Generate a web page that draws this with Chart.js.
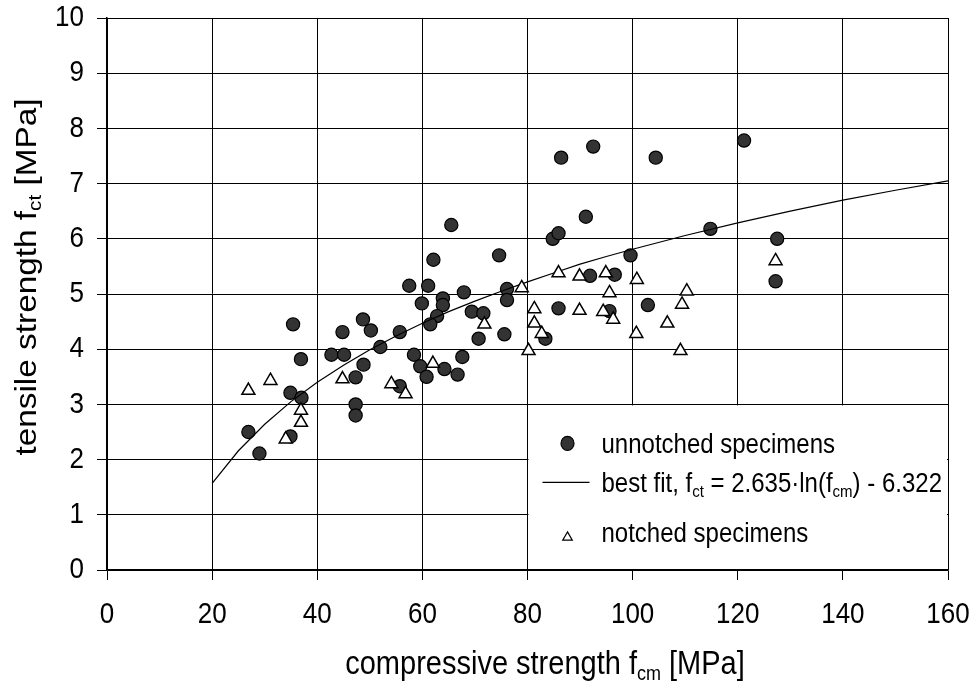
<!DOCTYPE html>
<html>
<head>
<meta charset="utf-8">
<script src="https://cdn.jsdelivr.net/npm/chart.js@4.4.1/dist/chart.umd.min.js"></script>
<style>
html,body{margin:0;padding:0;background:#fff;}
</style>
</head>
<body>
<canvas id="c" width="976" height="684"></canvas>
<script>
/* DATA */
const unnotchedX=[57.5,61.1,59.9,63.9,63.9,62.8,61.5,64.2,35.4,36.9,44.8,48.7,50.2,55.7,52.0,42.7,45.1,48.8,47.3,58.4,59.6,60.8,55.7,34.9,37.0,47.3,47.3,26.9,29.0,34.9,65.5,62.1,74.6,84.8,85.9,91.1,99.6,67.9,76.1,76.1,69.4,71.6,70.7,75.6,67.6,66.7,85.9,91.9,96.6,95.6,102.9,83.4,121.2,114.8,127.5,127.2,86.4,92.5,104.4];
const unnotchedY=[5.15,5.15,4.83,4.92,4.80,4.60,4.45,3.64,4.45,3.82,4.31,4.54,4.34,4.31,4.04,3.90,3.90,3.72,3.49,3.90,3.69,3.50,3.33,3.21,3.12,3.00,2.80,2.50,2.11,2.42,6.25,5.62,5.70,6.00,6.10,6.40,5.70,5.03,5.09,4.89,4.68,4.65,4.19,4.27,3.86,3.54,4.74,5.33,5.35,4.69,4.80,4.19,7.78,6.18,6.00,5.23,7.47,7.67,7.47];

const notchedX=[26.9,31.1,36.9,36.9,34.0,44.8,54.1,56.8,62.0,71.8,78.9,81.3,81.3,82.7,80.2,85.9,89.9,89.9,94.9,95.6,94.4,96.3,100.8,100.7,106.6,110.3,109.4,109.1,127.2];
const notchedY=[3.25,3.43,2.89,2.67,2.37,3.46,3.37,3.19,3.74,4.45,5.11,4.73,4.47,4.28,3.97,5.38,5.32,4.70,5.38,5.02,4.68,4.54,5.26,4.28,4.47,5.05,4.81,3.97,5.60];

const fitX=[20,25,30,35,40,45,50,55,60,65,70,75,80,85,90,95,100,110,120,130,140,150,160];
const fitY=[1.57,2.16,2.64,3.05,3.40,3.71,3.99,4.24,4.47,4.68,4.87,5.05,5.22,5.38,5.54,5.68,5.81,6.06,6.29,6.50,6.70,6.88,7.05];

const legendLabels=["unnotched specimens","best fit","notched specimens"];
const xTitle="compressive strength";
const yTitle="tensile strength";

const FONT="'Liberation Sans', Arial, sans-serif";
const STRETCH=1.15; // text in the picture is a bit taller than Arial

function pts(xs,ys){return xs.map((x,i)=>({x:x,y:ys[i]}));}

// text with subscripts: parts = [[text, isSub], ...]
function partsWidth(ctx,parts,size){
  let w=0;
  parts.forEach(p=>{
    ctx.font=(p[1]?Math.round(size*0.62):size)+"px "+FONT;
    w+=ctx.measureText(p[0]).width;
  });
  return w;
}
function drawParts(ctx,parts,x,y,size){
  ctx.save();
  ctx.translate(0,y);
  ctx.scale(1,STRETCH);
  parts.forEach(p=>{
    const s=p[1]?Math.round(size*0.62):size;
    ctx.font=s+"px "+FONT;
    ctx.fillText(p[0],x,p[1]?size*0.18:0);
    x+=ctx.measureText(p[0]).width;
  });
  ctx.restore();
}

/* stretch the tick labels the same way while the scales are drawn */
let plainFill=null;
const tallTicks={
  id:"tallTicks",
  beforeDraw(chart){
    const ctx=chart.ctx;
    plainFill=ctx.fillText;
    ctx.fillText=function(t,x,y,mw){
      this.save();
      this.translate(x,y);
      this.scale(1,STRETCH);
      if(mw===undefined) plainFill.call(this,t,0,0);
      else plainFill.call(this,t,0,0,mw);
      this.restore();
    };
  },
  beforeDatasetsDraw(chart){
    if(plainFill){chart.ctx.fillText=plainFill;plainFill=null;}
  }
};

const overlay={
  id:"overlay",
  beforeDatasetsDraw(chart){
    const ctx=chart.ctx, xs=chart.scales.x, ys=chart.scales.y;
    const L=xs.getPixelForValue(80), R=xs.getPixelForValue(160);
    const T=ys.getPixelForValue(3), B=ys.getPixelForValue(0);
    ctx.save();
    ctx.fillStyle="#fff";
    ctx.fillRect(L+1,T+1,R-L-2,B-T-2);
    ctx.textBaseline="alphabetic";
    // circle
    ctx.beginPath();
    ctx.ellipse(L+40,T+39,6.5,7,0,0,Math.PI*2);
    ctx.fillStyle="#333";ctx.fill();
    ctx.lineWidth=1.2;ctx.strokeStyle="#000";ctx.stroke();
    ctx.fillStyle="#000";
    drawParts(ctx,[[legendLabels[0],0]],L+74,T+49,24);
    // line
    ctx.beginPath();
    ctx.moveTo(L+15,T+78);ctx.lineTo(L+62,T+78);
    ctx.lineWidth=1.2;ctx.stroke();
    drawParts(ctx,[[legendLabels[1]+", f",0],["ct",1],[" = 2.635\u00b7ln(f",0],["cm",1],[") - 6.322",0]],L+74,T+88,24);
    // triangle
    const tx=L+40, ty=T+133, r=5.5;
    ctx.beginPath();
    ctx.moveTo(tx,ty-r);ctx.lineTo(tx+r*0.87,ty+r*0.5);ctx.lineTo(tx-r*0.87,ty+r*0.5);ctx.closePath();
    ctx.fillStyle="#fff";ctx.fill();ctx.lineWidth=1.2;ctx.stroke();
    ctx.fillStyle="#000";
    drawParts(ctx,[[legendLabels[2],0]],L+74,T+138,24);
    ctx.restore();
  },
  afterDraw(chart){
    const ctx=chart.ctx;
    ctx.save();
    ctx.fillStyle="#000";
    ctx.textBaseline="alphabetic";
    const xp=[[xTitle+" f",0],["cm",1],[" [MPa]",0]];
    const wx=partsWidth(ctx,xp,29);
    drawParts(ctx,xp,545-wx/2,674,29);
    const yp=[[yTitle+" f",0],["ct",1],[" [MPa]",0]];
    const wy=partsWidth(ctx,yp,29);
    ctx.translate(36,277);
    ctx.rotate(-Math.PI/2);
    ctx.scale(STRETCH,1/STRETCH);
    drawParts(ctx,yp,-wy/2,0,29);
    ctx.restore();
  }
};

new Chart(document.getElementById("c"),{
  type:"scatter",
  data:{
    datasets:[
      {
        label:legendLabels[2],
        data:pts(notchedX,notchedY),
        pointStyle:"triangle",
        pointRadius:7.5,
        backgroundColor:"#fff",
        borderColor:"#000",
        borderWidth:1.5,
        order:0
      },
      {
        label:legendLabels[1],
        data:pts(fitX,fitY),
        showLine:true,
        pointRadius:0,
        borderColor:"#000",
        borderWidth:1.2,
        tension:0,
        order:1
      },
      {
        label:legendLabels[0],
        data:pts(unnotchedX,unnotchedY),
        pointStyle:"circle",
        pointRadius:6.6,
        backgroundColor:"#333",
        borderColor:"#000",
        borderWidth:1.2,
        order:2
      }
    ]
  },
  options:{
    responsive:false,
    animation:false,
    devicePixelRatio:1,
    layout:{padding:{top:18,right:28,left:0,bottom:0}},
    plugins:{legend:{display:false},tooltip:{enabled:false}},
    scales:{
      x:{
        type:"linear",min:0,max:160,
        ticks:{stepSize:20,color:"#000",padding:19,font:{family:FONT,size:26}},
        grid:{color:"#000",lineWidth:1,tickLength:10},
        border:{color:"#000",width:1.5},
        afterFit(s){s.height=114;s.paddingLeft=0;s.paddingRight=0;}
      },
      y:{
        min:0,max:10,
        ticks:{stepSize:1,color:"#000",padding:13,font:{family:FONT,size:26}},
        grid:{color:"#000",lineWidth:1,tickLength:10},
        border:{color:"#000",width:1.5},
        afterFit(s){s.width=107;s.paddingTop=0;s.paddingBottom=0;}
      }
    }
  },
  plugins:[tallTicks,overlay]
});
</script>
</body>
</html>
